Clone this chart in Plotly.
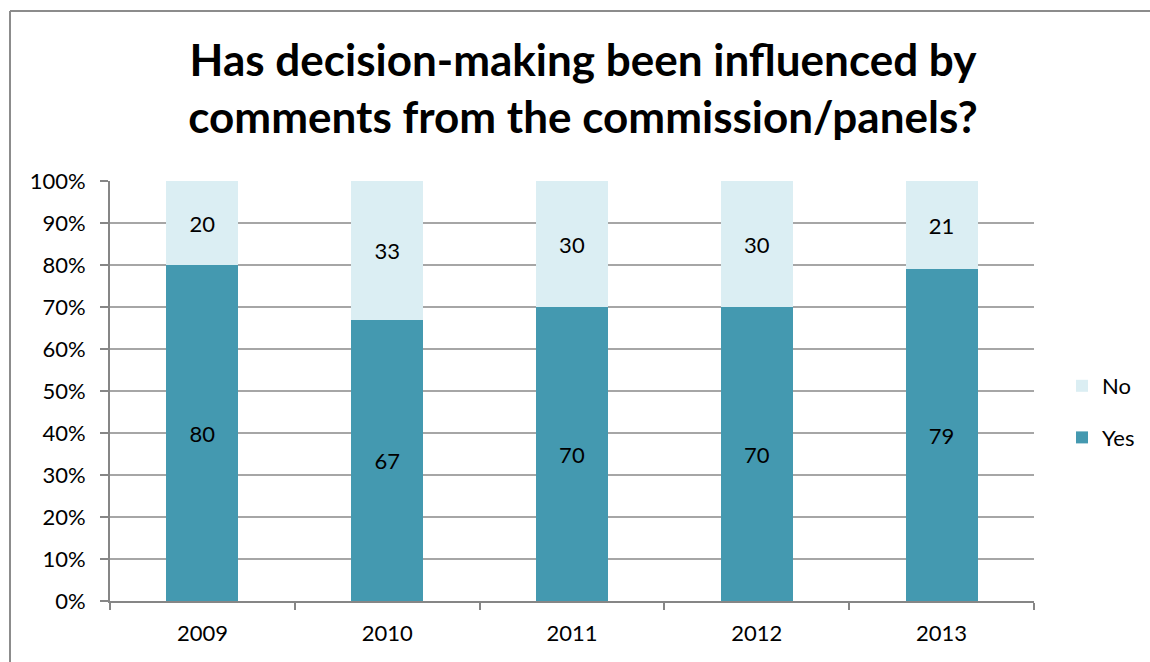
import plotly.graph_objects as go

years = ["2009", "2010", "2011", "2012", "2013"]
yes_pct = [80, 67, 70, 70, 79]
no_pct = [20, 33, 30, 30, 21]
y_ticks = [0, 10, 20, 30, 40, 50, 60, 70, 80, 90, 100]
y_tick_text = [f"{v}%" for v in y_ticks]

FONT = "Lato"
W, H = 1150, 662
L, R, T, B = 110, 116, 181, 61
pw, ph = W - L - R, H - T - B


def px_x(x):
    return (x - L) / pw


def px_y(y):
    return (H - B - y) / ph


fig = go.Figure()
fig.add_trace(go.Bar(
    x=years, y=yes_pct, name="Yes", marker=dict(color="#4499b0", line=dict(width=0)),
    text=[str(v) for v in yes_pct], textposition="inside", insidetextanchor="middle",
    textfont=dict(family=FONT, size=22, color="#000000"),
    legendgroup="yes", legendrank=2,
))
fig.add_trace(go.Bar(
    x=years, y=no_pct, name="No", marker=dict(color="#dbeef3", line=dict(width=0)),
    text=[str(v) for v in no_pct], textposition="inside", insidetextanchor="middle",
    textfont=dict(family=FONT, size=22, color="#000000"),
    legendgroup="no", legendrank=1,
))

# chart frame: top and left edges (the rest runs off the canvas)
frame = dict(type="line", xref="paper", yref="paper", line=dict(color="#8c8c8c", width=2), layer="below")
fig.add_shape(**frame, x0=px_x(10), x1=px_x(W), y0=px_y(11), y1=px_y(11))
fig.add_shape(**frame, x0=px_x(10), x1=px_x(10), y0=px_y(11), y1=px_y(H))

fig.update_layout(
    width=W, height=H,
    margin=dict(l=L, r=R, t=T, b=B, autoexpand=False),
    barmode="stack", bargap=0.61,
    paper_bgcolor="white", plot_bgcolor="white",
    font=dict(family=FONT, color="#000000"),
    title=dict(
        text="<b>Has decision-making been influenced by<br>comments from the commission/panels?</b>",
        x=583 / W, xanchor="center", y=1 - 76 / H, yanchor="middle",
        font=dict(family=FONT, size=44, color="#000000"),
    ),
    showlegend=True,
    legend=dict(
        x=px_x(1062), xanchor="left", y=px_y(412), yanchor="middle",
        traceorder="grouped", tracegroupgap=20,
        font=dict(family=FONT, size=22, color="#000000"),
        bgcolor="rgba(0,0,0,0)", itemwidth=30,
    ),
    xaxis=dict(
        type="category", showgrid=False, showline=True, linecolor="#868686", linewidth=2,
        ticks="outside", tickson="boundaries", ticklen=7, tickcolor="#868686", tickwidth=2,
        tickfont=dict(family=FONT, size=22, color="#000000"), ticklabelstandoff=12,
    ),
    yaxis=dict(
        range=[0, 100], tickvals=y_ticks, ticktext=y_tick_text,
        showgrid=True, gridcolor="#a6a6a6", gridwidth=2,
        showline=True, linecolor="#868686", linewidth=2,
        ticks="outside", ticklen=8, tickcolor="#868686", tickwidth=2,
        tickfont=dict(family=FONT, size=22, color="#000000"), ticklabelstandoff=10,
        zeroline=False,
    ),
)

fig.write_html("out.html", config={"displayModeBar": False})
